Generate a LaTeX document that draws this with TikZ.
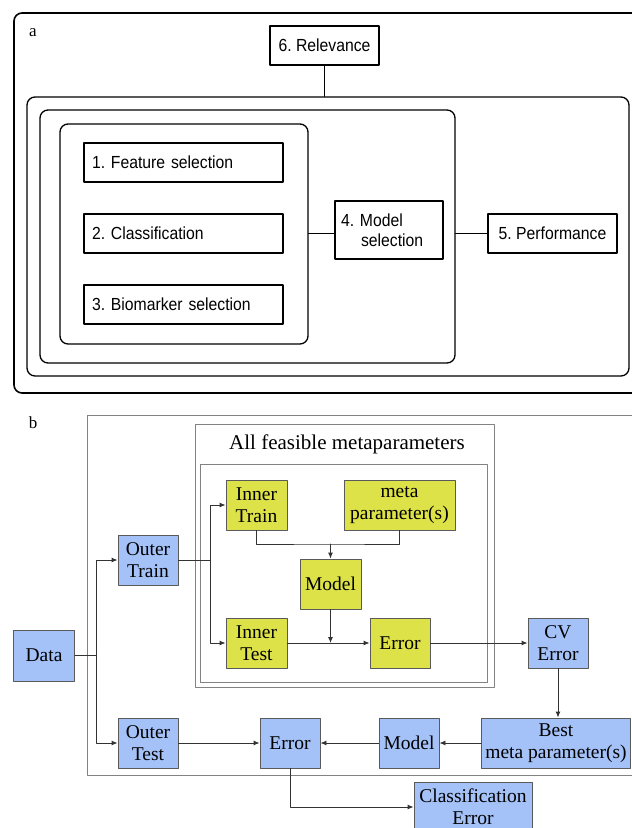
\documentclass[tikz,border=0pt]{standalone}
\usepackage{fontspec}
\setmainfont{Liberation Serif}
\newfontfamily\asans[FakeStretch=0.9]{Liberation Sans}
\usetikzlibrary{arrows.meta}
\frenchspacing

\definecolor{boxblue}{RGB}{164,194,248}
\definecolor{boxyellow}{RGB}{221,226,72}
\definecolor{edgegray}{RGB}{90,90,90}
\definecolor{framegray}{RGB}{130,130,130}

\begin{document}
\begin{tikzpicture}[x=1pt, y=-1pt, >={Latex[length=6pt,width=5pt]},
  line cap=round, line join=round,
  abox/.style={draw=black, line width=1.3pt, minimum height=39pt, inner sep=0pt,
    font=\asans\fontsize{17.5}{20}\selectfont},
  aframe/.style={draw=black, line width=1.3pt, rounded corners=8pt, inner sep=0pt},
  bbox/.style={draw=edgegray, line width=0.9pt, minimum width=60pt, minimum height=50pt,
    inner sep=1pt, align=center, font=\fontsize{19.5}{22}\selectfont},
  blue box/.style={bbox, fill=boxblue},
  yellow box/.style={bbox, fill=boxyellow},
  bframe/.style={draw=framegray, line width=0.9pt, inner sep=0pt},
  link/.style={draw=black!80, line width=0.9pt}]

  \useasboundingbox (0,0) rectangle (632,828);

  % Teil a
  \draw[line width=1.6pt, rounded corners=8pt] (660,13) -- (14,13) -- (14,393) -- (660,393);
  \node[font=\fontsize{17}{20}\selectfont] (labela) at (33,33) {a};

  \node[abox, minimum width=109pt] (rel) at (324.5,45.5) {6. Relevance};

  \node[aframe, minimum width=602pt, minimum height=279pt] (outer) at (328,236.5) {};
  \node[aframe, minimum width=415pt, minimum height=253pt] (middle) at (247.5,236.5) {};
  \node[aframe, minimum width=248pt, minimum height=220pt] (inner) at (184,234) {};

  \node[abox, minimum width=199pt, text width=183pt, align=left] (feat) at (183.5,162.5) {1. Feature selection};
  \node[abox, minimum width=199pt, text width=183pt, align=left] (clas) at (183.5,233.5) {2. Classification};
  \node[abox, minimum width=199pt, text width=183pt, align=left] (bio) at (183.5,304.5) {3. Biomarker selection};

  \node[abox, minimum width=108pt, minimum height=58pt, text width=96pt, align=left] (msel) at (389,230)
    {4. Model\\\hspace*{20pt}selection};
  \node[abox, minimum width=129pt] (perf) at (552.5,233.5) {5. Performance};

  \draw[line width=1.3pt] (rel.south) -- (rel.south |- outer.north);
  \draw[line width=1.3pt] (inner.east |- perf) -- (msel.west |- perf);
  \draw[line width=1.3pt] (middle.east |- perf) -- (perf.west);

  % Teil b
  \draw[bframe] (660,415) -- (87,415) -- (87,775) -- (660,775);
  \node[font=\fontsize{17}{20}\selectfont] (labelb) at (33,423) {b};

  \node[bframe, minimum width=299pt, minimum height=263pt] (allfeas) at (344.5,555.5) {};
  \node[bframe, minimum width=287pt, minimum height=218pt] (loop) at (343.5,573) {};
  \node[font=\fontsize{21}{24}\selectfont] (title) at (347,444) {All feasible metaparameters};

  \node[yellow box, minimum width=61pt] (itrain) at (256.5,505) {Inner\\Train};
  \node[yellow box, minimum width=111pt] (meta) at (399.5,505) {meta\\parameter(s)};
  \node[yellow box, minimum width=61pt] (ymodel) at (330.5,584) {Model};
  \node[yellow box, minimum width=61pt] (itest) at (256.5,643) {Inner\\Test};
  \node[yellow box] (yerr) at (400,643) {Error};

  \node[blue box, minimum width=61pt, minimum height=51pt] (data) at (44,655.5) {Data};
  \node[blue box] (otrain) at (148,560) {Outer\\Train};
  \node[blue box] (otest) at (148,743) {Outer\\Test};
  \node[blue box] (cverr) at (558,643) {CV\\Error};
  \node[blue box, minimum width=149pt] (best) at (556,743) {Best\\meta parameter(s)};
  \node[blue box] (bmodel) at (409,743) {Model};
  \node[blue box] (berr) at (290,743) {Error};
  \node[blue box, minimum width=118pt] (clerr) at (473,807) {Classification\\Error};

  \coordinate (split) at (96,655.5);
  \coordinate (inner split) at (210,560);
  \coordinate (merge) at (330.5,544);

  \draw[link] (data.east) -- (split);
  \draw[link, ->] (split) |- (otrain.west);
  \draw[link, ->] (split) |- (otest.west);
  \draw[link] (otrain.east) -- (inner split);
  \draw[link, ->] (inner split) |- (itrain.west);
  \draw[link, ->] (inner split) |- (itest.west);
  \draw[link] (itrain.south) |- (merge) -| (meta.south);
  \draw[link, ->] (merge) -- (ymodel.north);
  \draw[link, ->] (ymodel.south) -- (ymodel.south |- itest.east);
  \draw[link, ->] (itest.east) -- (yerr.west);
  \draw[link, ->] (yerr.east) -- (cverr.west);
  \draw[link, ->] (cverr.south) -- (cverr.south |- best.north);
  \draw[link, ->] (best.west) -- (bmodel.east);
  \draw[link, ->] (bmodel.west) -- (berr.east);
  \draw[link, ->] (otest.east) -- (berr.west);
  \draw[link, ->] (berr.south) |- (clerr.west);
\end{tikzpicture}
\end{document}
